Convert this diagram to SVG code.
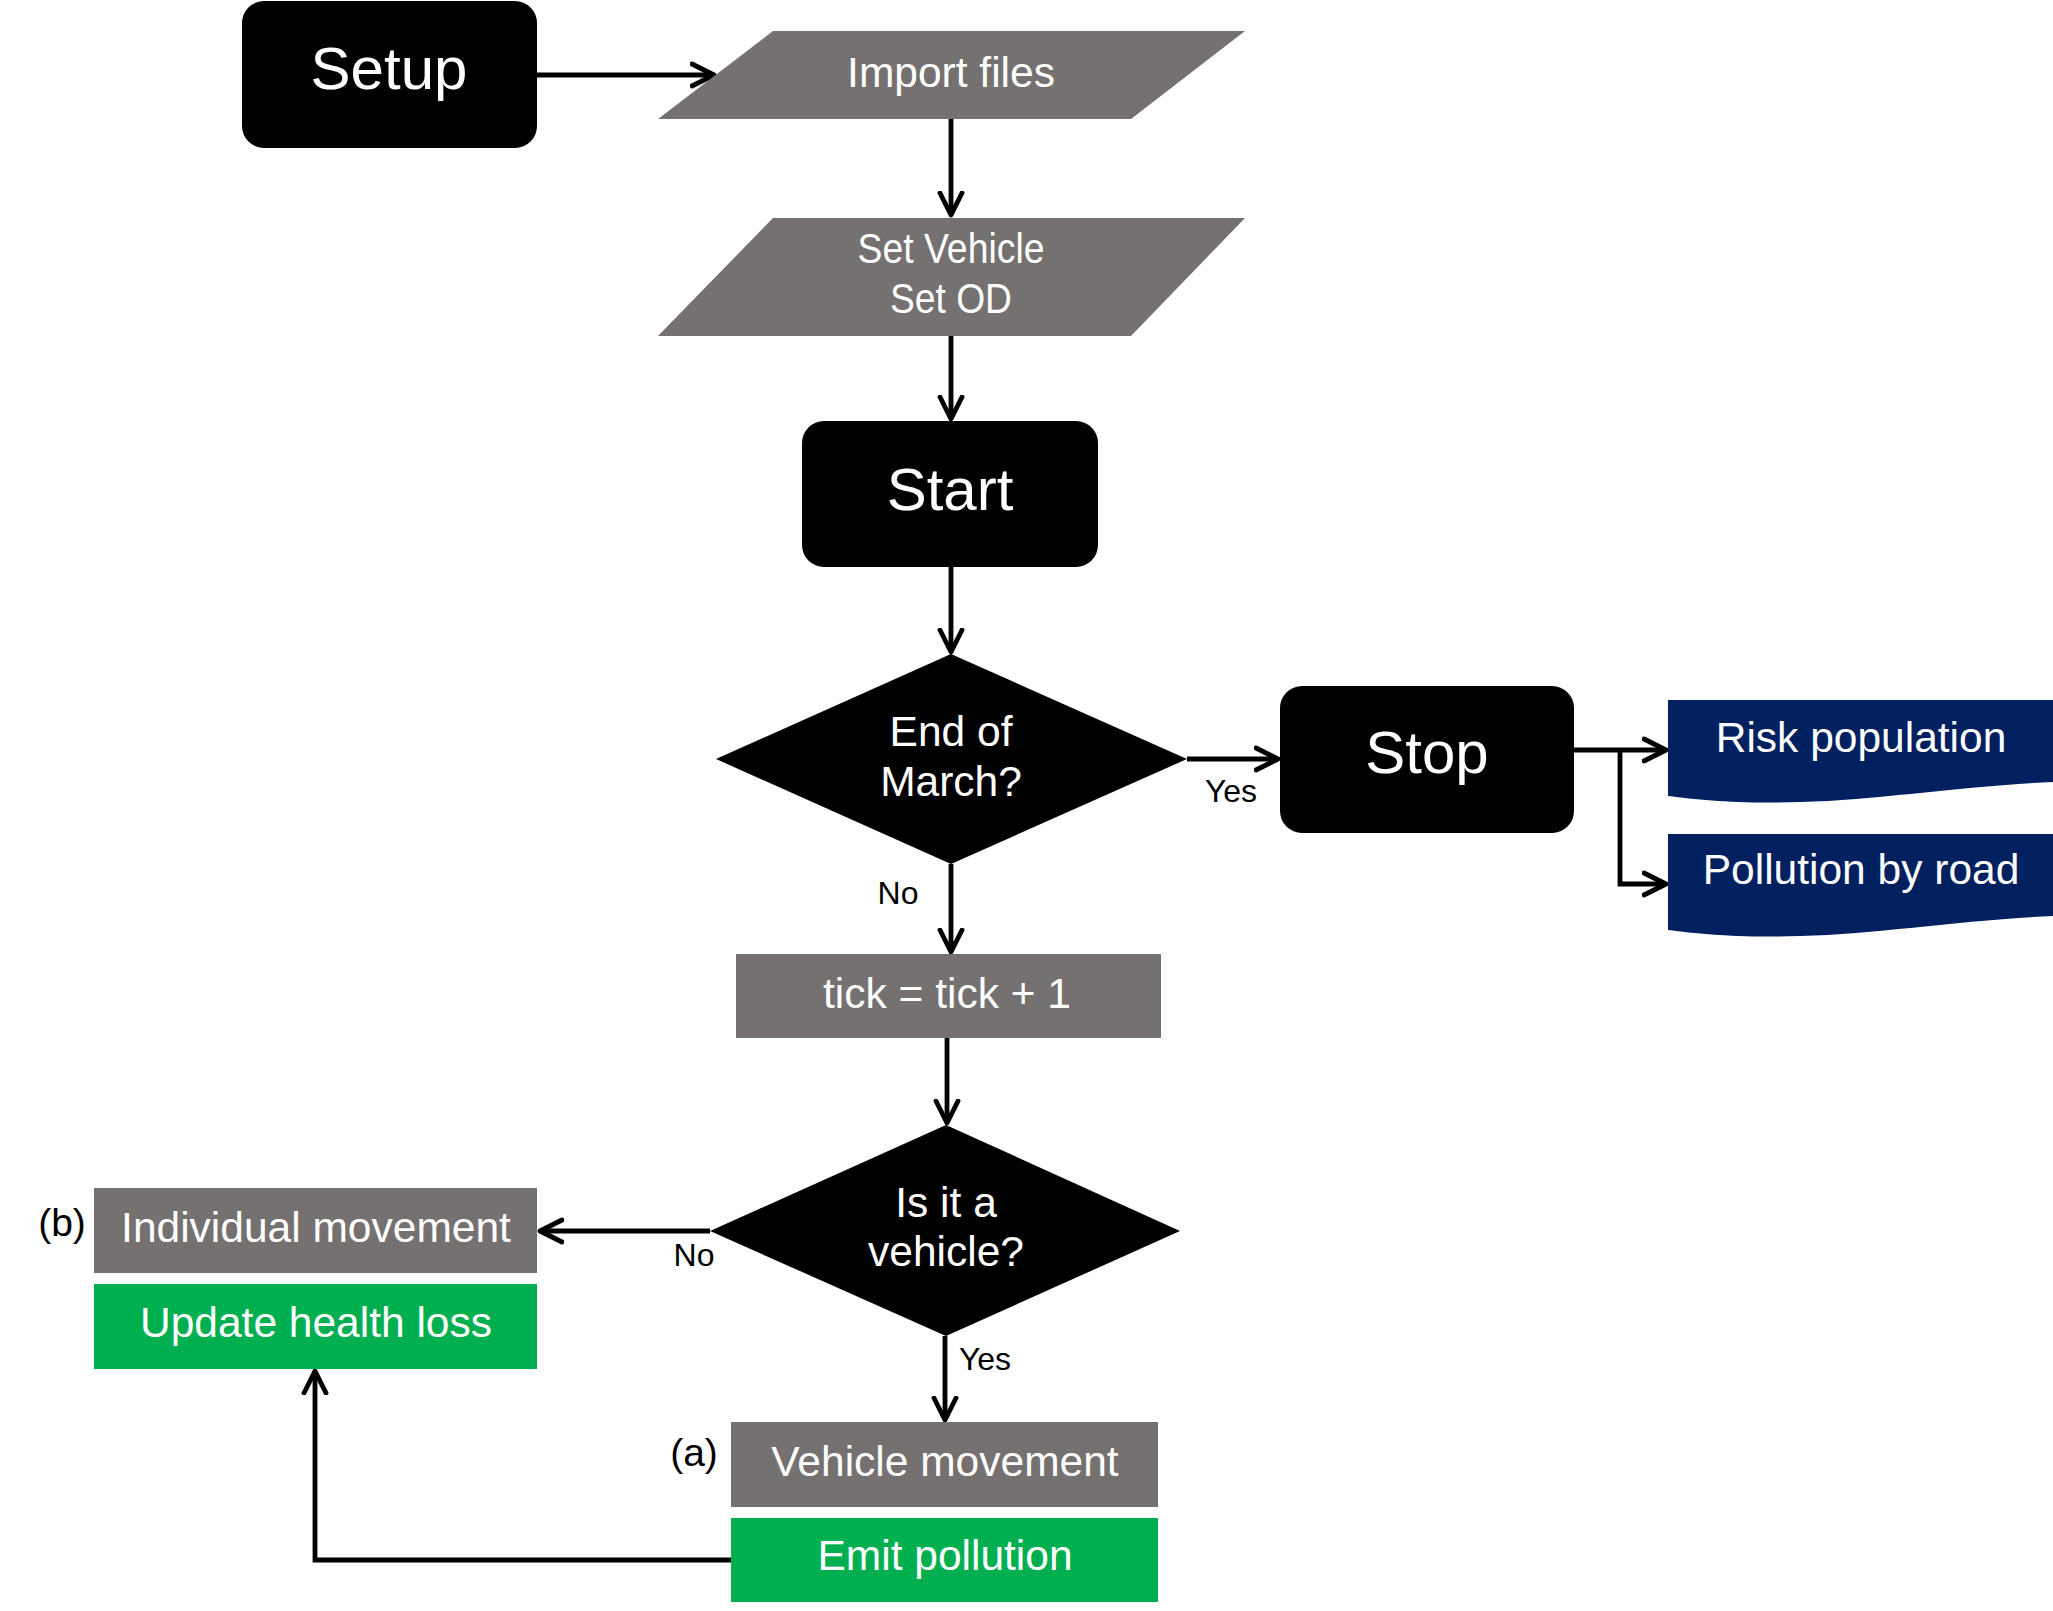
<svg xmlns="http://www.w3.org/2000/svg" width="2053" height="1611" viewBox="0 0 2053 1611">
<defs>
<style>
.blk{fill:#000}
.gry{fill:#767171}
.grn{fill:#00B050}
.nvy{fill:#002060}
text{font-family:"Liberation Sans",Arial,sans-serif;text-anchor:middle}
.wt{fill:#fff;font-size:42.5px}
.big{fill:#fff;font-size:60px}
.lbl{fill:#000;font-size:32px}
.tag{fill:#000;font-size:39px}
.conn{fill:none;stroke:#000;stroke-width:4.8;marker-end:url(#arr)}
</style>
<marker id="arr" markerUnits="userSpaceOnUse" markerWidth="30" markerHeight="30" viewBox="0 0 30 30" refX="24" refY="15" orient="auto">
<path d="M2,4 L24,15 L2,26" fill="none" stroke="#000" stroke-width="4.8" stroke-linecap="round" stroke-linejoin="round"/>
</marker>
</defs>
<rect width="2053" height="1611" fill="#fff"/>

<g id="connectors">
<path class="conn" d="M537,75 H714"/>
<path class="conn" d="M951,119 V215"/>
<path class="conn" d="M951,336 V419"/>
<path class="conn" d="M951,567 V652"/>
<path class="conn" d="M951,864 V952"/>
<path class="conn" d="M947,1038 V1123"/>
<path class="conn" d="M1187,759 H1278"/>
<path class="conn" d="M1574,750 H1666"/>
<path class="conn" d="M1620,750 V884 H1666"/>
<path class="conn" d="M710,1231 H540"/>
<path class="conn" d="M945,1336 V1420"/>
<path class="conn" d="M731,1560 H315 V1371"/>
</g>

<g id="setup">
<rect class="blk" x="242" y="1" width="295" height="147" rx="22"/>
<text class="big" x="389" y="89">Setup</text>
</g>

<g id="import">
<polygon class="gry" points="773,31 1245,31 1131,119 658,119"/>
<text class="wt" x="951" y="87">Import files</text>
</g>

<g id="setvehicle">
<polygon class="gry" points="773,218 1245,218 1131,336 658,336"/>
<text class="wt" x="951" y="263" textLength="187" lengthAdjust="spacingAndGlyphs">Set Vehicle</text>
<text class="wt" x="951" y="313" textLength="122" lengthAdjust="spacingAndGlyphs">Set OD</text>
</g>

<g id="start">
<rect class="blk" x="802" y="421" width="296" height="146" rx="22"/>
<text class="big" x="950" y="510">Start</text>
</g>

<g id="endmarch">
<polygon class="blk" points="951,654 1187,759 951,864 716,759"/>
<text class="wt" x="951" y="746">End of</text>
<text class="wt" x="951" y="796">March?</text>
</g>

<g id="stop">
<rect class="blk" x="1280" y="686" width="294" height="147" rx="22"/>
<text class="big" x="1427" y="773">Stop</text>
</g>

<g id="risk">
<path class="nvy" d="M1668,700 H2053 V782 C1960,786 1880,800 1800,802 C1740,804 1700,800 1668,796 Z"/>
<text class="wt" x="1861" y="752">Risk population</text>
</g>

<g id="pollution">
<path class="nvy" d="M1668,834 H2053 V916 C1960,920 1880,934 1800,936 C1740,938 1700,934 1668,930 Z"/>
<text class="wt" x="1861" y="884">Pollution by road</text>
</g>

<g id="tick">
<rect class="gry" x="736" y="954" width="425" height="84"/>
<text class="wt" x="947" y="1008">tick = tick + 1</text>
</g>

<g id="isvehicle">
<polygon class="blk" points="946,1125 1180,1231 946,1336 710,1231"/>
<text class="wt" x="946" y="1217">Is it a</text>
<text class="wt" x="946" y="1266">vehicle?</text>
</g>

<g id="individual">
<rect class="gry" x="94" y="1188" width="443" height="85"/>
<text class="wt" x="316" y="1242">Individual movement</text>
</g>

<g id="update">
<rect class="grn" x="94" y="1284" width="443" height="85"/>
<text class="wt" x="316" y="1337">Update health loss</text>
</g>

<g id="vehiclemove">
<rect class="gry" x="731" y="1422" width="427" height="85"/>
<text class="wt" x="945" y="1476">Vehicle movement</text>
</g>

<g id="emit">
<rect class="grn" x="731" y="1518" width="427" height="84"/>
<text class="wt" x="945" y="1570">Emit pollution</text>
</g>

<g id="labels">
<text class="lbl" x="1231" y="802">Yes</text>
<text class="lbl" x="898" y="904">No</text>
<text class="lbl" x="694" y="1266">No</text>
<text class="lbl" x="985" y="1370">Yes</text>
<text class="tag" x="694" y="1466">(a)</text>
<text class="tag" x="62" y="1236">(b)</text>
</g>
</svg>
